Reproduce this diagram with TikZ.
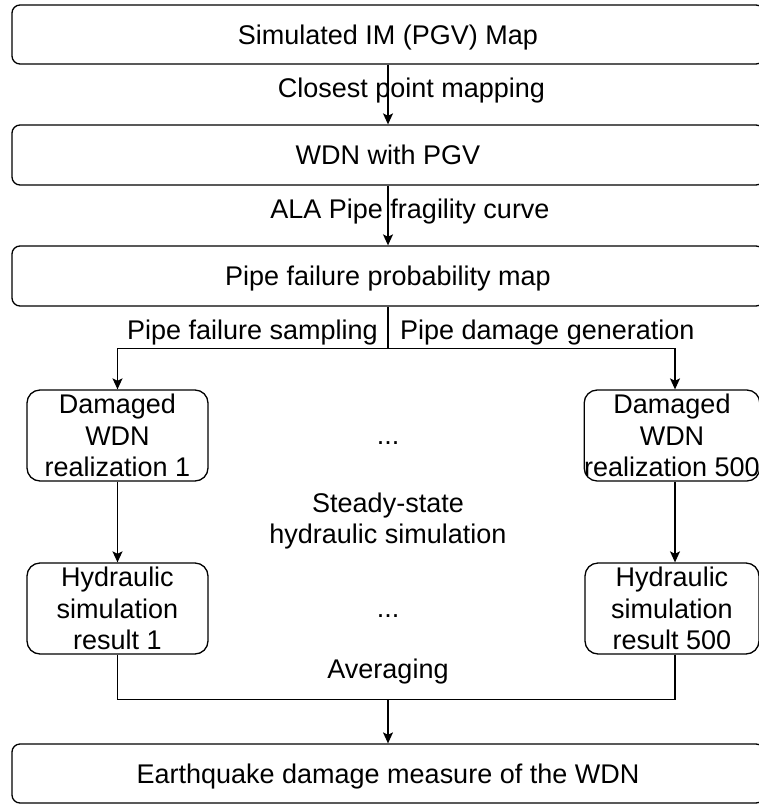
\documentclass[tikz,border=0pt]{standalone}
\usepackage{fontspec}
\setmainfont{Liberation Sans}
\usetikzlibrary{arrows.meta}

\tikzset{
  base/.style={draw=black, line width=1.3pt, text=black, inner sep=0pt,
    font=\fontsize{27}{31.5}\selectfont},
  widebox/.style={base, rounded corners=8pt, minimum width=752pt, minimum height=59pt,
    text height=19.3pt, text depth=0pt},
  stagebox/.style={base, rounded corners=13pt, minimum height=91pt, align=center},
  lbl/.style={inner sep=0pt, text=black, font=\fontsize{27}{31}\selectfont},
  flow/.style={draw=black, line width=1.3pt, -{Stealth[length=11pt,width=10pt,inset=2.5pt]}},
  wire/.style={draw=black, line width=1.3pt}
}

\begin{document}
\begin{tikzpicture}[x=1pt,y=-1pt]
  \useasboundingbox (0,0) rectangle (759,804);
  \clip (0,0) rectangle (759,804);

  % main chain
  \node[widebox] (imap) at (388,34.5) {Simulated IM (PGV) Map};
  \node[widebox, minimum height=60pt] (wdn) at (388,155) {WDN with PGV};
  \node[widebox, minimum height=60pt] (pfp) at (388,276) {Pipe failure probability map};
  \node[widebox] (edm) at (388,773.5) {Earthquake damage measure of the WDN};

  % realizations
  \node[stagebox, minimum width=181pt] (dam1) at (117.5,435.5) {Damaged\\WDN\\realization 1};
  \node[stagebox, minimum width=174pt] (dam500) at (672,435.5) {Damaged\\WDN\\realization 500};
  \node[stagebox, minimum width=181pt] (hyd1) at (117.5,608.5) {Hydraulic\\simulation\\result 1};
  \node[stagebox, minimum width=174pt] (hyd500) at (672,608.5) {Hydraulic\\simulation\\result 500};

  % edge labels
  \node[lbl, anchor=base] (l1) at (411.5,97) {Closest point mapping};
  \node[lbl, anchor=base] (l2) at (410,218) {ALA Pipe fragility curve};
  \node[lbl, anchor=base east] (l3) at (378,339) {Pipe failure sampling};
  \node[lbl, anchor=base west] (l4) at (400,339) {Pipe damage generation};
  \node[lbl, align=center, anchor=base] (l5) at (388,543) {Steady-state\\hydraulic simulation};
  \node[lbl, anchor=base] (l6) at (388,678) {Averaging};
  \node[lbl] (dots1) at (388,443.5) {...};
  \node[lbl] (dots2) at (388,616) {...};

  % connectors
  \draw[flow] (imap.south) -- (wdn.north);
  \draw[flow] (wdn.south) -- (pfp.north);
  \coordinate (split) at (388,348.5);
  \draw[wire] (pfp.south) -- (split);
  \draw[flow] (split) -| (dam1.north);
  \draw[flow] (split) -| ([xshift=3pt]dam500.north);
  \draw[flow] (dam1.south) -- (hyd1.north);
  \draw[flow] ([xshift=3pt]dam500.south) -- ([xshift=3pt]hyd500.north);
  \coordinate (merge) at (388,699.5);
  \draw[wire] (hyd1.south) |- (merge);
  \draw[wire] ([xshift=3pt]hyd500.south) |- (merge);
  \draw[flow] (merge) -- (edm.north);
\end{tikzpicture}
\end{document}
